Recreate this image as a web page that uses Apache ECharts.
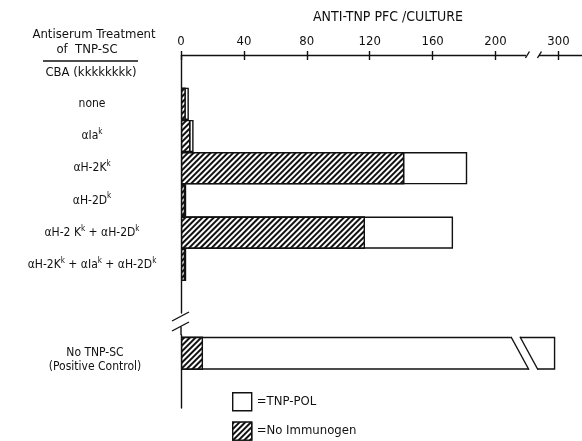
<!DOCTYPE html>
<html><head><meta charset="utf-8">
<script src="https://cdn.jsdelivr.net/npm/echarts@6/dist/echarts.min.js"></script>
<style>html,body{margin:0;padding:0;background:#fff}#c{width:582px;height:441px}</style>
</head><body><div id="c"></div>
<script>
// ---- data ----
const treatments = ['', 'none', 'αIa^k', 'αH-2K^k', 'αH-2D^k', 'αH-2 K^k + αH-2D^k', 'αH-2K^k + αIa^k + αH-2D^k', ''];
const tnpPol      = [null, 5, 8, 182, 3.3, 173, 3.3, null];
const noImmunogen = [null, 3, 6, 142, 2.6, 117, 2.6, null];
const controlCategories = ['No TNP-SC\n(Positive Control)', ''];
const controlTnpPol      = [298, null];
const controlNoImmunogen = [14, null];
const tickValues = [0, 40, 80, 120, 160, 200, 300];
const seriesNames = ['TNP-POL', 'No Immunogen'];
const axisTitle = 'ANTI-TNP PFC /CULTURE';
const headerLines = ['Antiserum Treatment', 'of  TNP-SC', 'CBA (kkkkkkkk)'];
const breakStart = 220, breakEnd = 287;

// ---- style ----
const FONT = '"DejaVu Sans Condensed", "Liberation Sans Narrow", "DejaVu Sans", sans-serif';
const INK = '#111';
const LW = 1.4;
const hatch = { symbol: 'rect', symbolSize: 1, dashArrayX: [1, 0], dashArrayY: [1.5, 1.7],
  rotation: -Math.PI / 4, color: INK, backgroundColor: '#fff' };
const G1 = { left: 181, right: 0, top: 55.5, height: 257.6 };
const G2 = { left: 181, right: 0, top: 335, height: 73 };

function supFmt(v) {
  if (!v) return '';
  const parts = v.split('^k');
  let s = '';
  parts.forEach((p, i) => {
    if (p) s += '{t|' + p + '}';
    if (i < parts.length - 1) s += '{s|k}';
  });
  return s;
}
function ctrlFmt(v) {
  if (!v) return '';
  return '{g| }\n' + v.split('\n').map(p => '{c|' + p + '}').join('\n');
}

const xBase = {
  type: 'value', min: 0, max: 315,
  breaks: [{ start: breakStart, end: breakEnd, gap: 7 }],
  breakArea: { show: false },
  splitLine: { show: false }
};

const chart = echarts.init(document.getElementById('c'), null, { renderer: 'canvas' });
const option = {
  animation: false,
  backgroundColor: '#fff',
  textStyle: { fontFamily: FONT, color: INK },
  grid: [Object.assign({}, G1), Object.assign({}, G2)],
  xAxis: [
    Object.assign({}, xBase, {
      gridIndex: 0, position: 'top',
      name: axisTitle, nameLocation: 'middle', nameGap: 31,
      nameTextStyle: { fontFamily: FONT, fontSize: 14, color: INK, padding: [0, 0, 0, 13] },
      axisLine: { show: true, lineStyle: { color: INK, width: LW } },
      axisTick: { show: true, inside: false, length: 4.5, customValues: tickValues, lineStyle: { color: INK, width: LW } },
      axisLabel: { show: true, customValues: tickValues, margin: 7, fontFamily: FONT, fontSize: 13, color: INK,
        formatter: v => String(v) }
    }),
    Object.assign({}, xBase, {
      gridIndex: 0, position: 'top',
      axisLine: { show: false },
      axisTick: { show: true, inside: true, length: 4.5, customValues: tickValues, lineStyle: { color: INK, width: LW } },
      axisLabel: { show: false }
    }),
    Object.assign({}, xBase, { gridIndex: 1, show: false })
  ],
  yAxis: [
    {
      type: 'category', gridIndex: 0, inverse: true, data: treatments,
      axisLine: { show: true, lineStyle: { color: INK, width: LW } },
      axisTick: { show: false },
      axisLabel: { margin: 89, align: 'center', formatter: supFmt,
        rich: {
          t: { fontFamily: FONT, fontSize: 12, color: INK, lineHeight: 16 },
          s: { fontFamily: FONT, fontSize: 8, color: INK, lineHeight: 8, verticalAlign: 'top' }
        } }
    },
    {
      type: 'category', gridIndex: 1, inverse: true, data: controlCategories,
      axisLine: { show: true, lineStyle: { color: INK, width: LW } },
      axisTick: { show: false },
      axisLabel: { margin: 86, align: 'center', formatter: ctrlFmt,
        rich: {
          g: { fontFamily: FONT, fontSize: 12, color: INK, lineHeight: 14 },
          c: { fontFamily: FONT, fontSize: 12, color: INK, lineHeight: 14 }
        } }
    }
  ],
  legend: {
    data: seriesNames, orient: 'vertical', left: 232, top: 392, padding: 0,
    itemWidth: 19, itemHeight: 18, itemGap: 10, icon: 'rect', selectedMode: false,
    formatter: n => '=' + n,
    itemStyle: { borderColor: INK, borderWidth: LW },
    textStyle: { fontFamily: FONT, fontSize: 13, color: INK }
  },
  series: [
    { name: seriesNames[0], type: 'bar', xAxisIndex: 0, yAxisIndex: 0, data: tnpPol,
      barCategoryGap: 0, barGap: '-100%',
      itemStyle: { color: '#fff', borderColor: INK, borderWidth: LW } },
    { name: seriesNames[1], type: 'bar', xAxisIndex: 0, yAxisIndex: 0, data: noImmunogen,
      barCategoryGap: 0, barGap: '-100%',
      itemStyle: { color: '#fff', decal: hatch, borderColor: INK, borderWidth: LW } },
    { name: seriesNames[0], type: 'bar', xAxisIndex: 2, yAxisIndex: 1, data: controlTnpPol,
      barWidth: 33, barGap: '-100%',
      itemStyle: { color: '#fff', borderColor: INK, borderWidth: LW } },
    { name: seriesNames[1], type: 'bar', xAxisIndex: 2, yAxisIndex: 1, data: controlNoImmunogen,
      barWidth: 33, barGap: '-100%',
      itemStyle: { color: '#fff', decal: hatch, borderColor: INK, borderWidth: LW } }
  ]
};
chart.setOption(option);

// ---- decorations: header, axis breaks (positions from the chart's own scales) ----
const xs = chart.convertToPixel({ xAxisIndex: 0 }, breakStart);
const xe = chart.convertToPixel({ xAxisIndex: 0 }, breakEnd);
const ax = chart.convertToPixel({ xAxisIndex: 0 }, 0);
const yc = chart.convertToPixel({ yAxisIndex: 1 }, controlCategories[0]);
const yT = yc - 16.5, yB = yc + 16.5;
const axY = G1.top;
const line = (x1, y1, x2, y2) => ({ type: 'line', z: 200, shape: { x1, y1, x2, y2 },
  style: { stroke: INK, lineWidth: LW } });
const txt = (x, y, s, size) => ({ type: 'text', z: 200, x, y,
  style: { text: s, font: size + 'px ' + FONT, fill: INK, align: 'center', verticalAlign: 'middle' } });

chart.setOption({
  graphic: [
    txt(94, 35, headerLines[0], 13),
    txt(87, 50, headerLines[1], 13),
    line(43, 61, 138, 61),
    txt(91, 73, headerLines[2], 13),
    // x axis break
    { type: 'rect', z: 190, shape: { x: xs - 1, y: axY - 2, width: xe - xs + 2, height: 4 }, style: { fill: '#fff' } },
    line(xs - 1.5, axY + 2.5, xs + 2.5, axY - 4),
    line(xe - 0.5, axY + 2.5, xe + 3.5, axY - 4),
    // bar break
    { type: 'polygon', z: 190, shape: { points: [[xs - 17, yT - 1], [xe - 18.5, yT - 1], [xe + 0.5, yB + 1], [xs + 2.5, yB + 1]] },
      style: { fill: '#fff' } },
    line(xs - 16, yT, xs + 2, yB),
    line(xe - 18, yT, xe, yB),
    // y axis break
    line(ax - 9, 321, ax + 8, 312),
    line(ax - 9, 331, ax + 8, 322),
    line(ax, 326.5, ax, G2.top)
  ]
});
</script>
</body></html>
